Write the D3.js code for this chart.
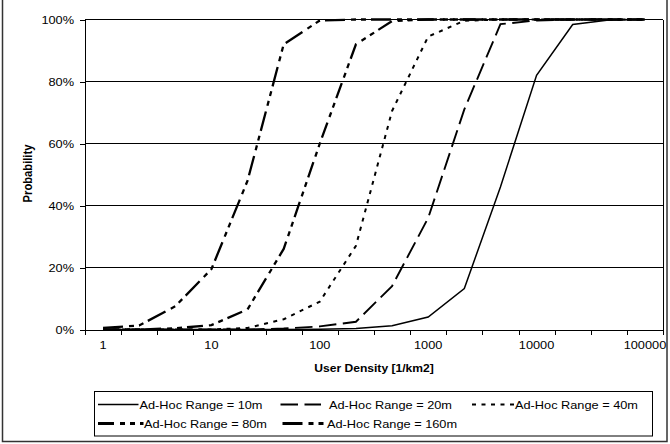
<!DOCTYPE html>
<html>
<head>
<meta charset="utf-8">
<script src="https://cdn.jsdelivr.net/npm/d3@7"></script>
<style>
  body { margin: 0; background: #fff; }
  svg text { font-family: "Liberation Sans", Arial, sans-serif; fill: #000; }
</style>
</head>
<body>
<svg id="chart" width="670" height="444"></svg>
<script>
// User density categories (1/km2), three steps per decade
const densities = [1, 2.15, 4.64, 10, 21.5, 46.4, 100, 215, 464, 1000, 2154, 4642, 10000, 21544, 46416, 100000];
const densityLabels = ["1", "10", "100", "1000", "10000", "100000"];
const probabilityTicks = [0, 20, 40, 60, 80, 100];

// Connection probability (%) per ad-hoc range
const range10m  = [0, 0, 0, 0, 0, 0, 0.1, 0.3, 1.2, 4, 13.2, 46, 82, 98.4, 99.8, 100];
const range20m  = [0, 0, 0, 0, 0, 0.3, 1, 2.5, 14, 36, 71, 98.5, 99.7, 100, 100, 100];
const range40m  = [0, 0, 0, 0, 0.5, 3.3, 9, 27, 70.5, 94.5, 99.6, 100, 100, 100, 100, 100];
const range80m  = [0, 0, 0.4, 1.4, 6.5, 26, 60, 92, 99.5, 100, 100, 100, 100, 100, 100, 100];
const range160m = [0.5, 1.3, 7.5, 19.5, 48, 92, 99.7, 100, 100, 100, 100, 100, 100, 100, 100, 100];

const seriesNames = ["Ad-Hoc Range = 10m", "Ad-Hoc Range = 20m", "Ad-Hoc Range = 40m",
                     "Ad-Hoc Range = 80m", "Ad-Hoc Range = 160m"];
const seriesValues = [range10m, range20m, range40m, range80m, range160m];

// Line styles per series (plot width, legend sample width, dash pattern)
const lineStyles = [
  { width: 1.5, keyWidth: 1.5, dash: null },
  { width: 1.9, keyWidth: 2.1, dash: "17.5,6.5" },
  { width: 2.0, keyWidth: 2.1, dash: "4,5.5" },
  { width: 2.3, keyWidth: 2.8, dash: "16,6,5,5,5,5" },
  { width: 2.3, keyWidth: 2.8, dash: "20,6,5,5,5,5" }
];

const svg = d3.select("#chart");
const STRETCH = 1.1;
const FONT = 11.6;

// plot frame
const plotLeft = 85, plotRight = 663, plotTop = 19.5, plotBottom = 329.5;

const x = d3.scaleBand().domain(d3.range(densities.length)).range([plotLeft, plotRight]);
const xEdge = d3.scaleLinear().domain([0, densities.length]).range([plotLeft, plotRight]);
const y = d3.scaleLinear().domain([0, 100]).range([plotBottom, plotTop]);
const cx = i => x(i) + x.bandwidth() / 2;

// outer chart border
svg.append("rect")
  .attr("x", 2.5).attr("y", -3).attr("width", 664.5).attr("height", 444.5)
  .attr("fill", "none").attr("stroke", "#333").attr("stroke-width", 1.5);

// horizontal gridlines
svg.append("g").selectAll("line")
  .data(probabilityTicks.filter(d => d > 0))
  .join("line")
  .attr("x1", plotLeft).attr("x2", plotRight)
  .attr("y1", d => y(d)).attr("y2", d => y(d))
  .attr("stroke", "#000").attr("stroke-width", 1)
  .attr("shape-rendering", "crispEdges");

// right edge of plot area
svg.append("line")
  .attr("x1", plotRight + 0.5).attr("x2", plotRight + 0.5)
  .attr("y1", plotTop).attr("y2", plotBottom)
  .attr("stroke", "#000").attr("shape-rendering", "crispEdges");

// y axis
const yAxis = svg.append("g")
  .attr("transform", `translate(${plotLeft},0)`)
  .call(d3.axisLeft(y).tickValues(probabilityTicks).tickFormat(d => d + "%").tickSize(5).tickPadding(0));
yAxis.select(".domain").attr("stroke", "#000").attr("shape-rendering", "crispEdges");
yAxis.selectAll(".tick line").attr("stroke", "#000").attr("shape-rendering", "crispEdges");
yAxis.selectAll(".tick text")
  .attr("font-size", FONT)
  .attr("font-family", null)
  .attr("x", -11 / STRETCH)
  .attr("dy", "0.35em")
  .attr("transform", `scale(${STRETCH},1)`);

// x axis: tick marks between categories
const xTicks = svg.append("g")
  .attr("transform", `translate(0,${plotBottom})`)
  .call(d3.axisBottom(xEdge).tickValues(d3.range(densities.length + 1)).tickFormat("").tickSize(5));
xTicks.select(".domain").attr("stroke", "#000").attr("shape-rendering", "crispEdges");
xTicks.selectAll(".tick line").attr("stroke", "#000").attr("shape-rendering", "crispEdges");

// x axis: decade labels centred on their categories
const decadeIdx = densities.map((d, i) => i).filter(i => densityLabels.includes(String(densities[i])));
const xLabels = svg.append("g")
  .attr("transform", `translate(0,${plotBottom})`)
  .call(d3.axisBottom(x).tickValues(decadeIdx).tickFormat(i => String(densities[i])).tickSize(0));
xLabels.select(".domain").remove();
xLabels.selectAll(".tick text")
  .attr("font-size", FONT)
  .attr("font-family", null)
  .attr("y", 19.5).attr("dy", 0)
  .attr("transform", `scale(${STRETCH},1)`);

// axis titles
svg.append("text")
  .attr("transform", `translate(374,371.5) scale(${STRETCH},1)`)
  .attr("text-anchor", "middle")
  .attr("font-size", 11).attr("font-weight", "bold")
  .text("User Density [1/km2]");

svg.append("text")
  .attr("transform", "translate(28,173.5) rotate(-90) scale(1,1.1)")
  .attr("text-anchor", "middle").attr("dy", "0.35em")
  .attr("font-size", 11.2).attr("font-weight", "bold")
  .text("Probability");

// series lines
const line = d3.line().x((d, i) => cx(i)).y(d => y(d));
svg.append("g").selectAll("path")
  .data(seriesValues)
  .join("path")
  .attr("d", line)
  .attr("fill", "none")
  .attr("stroke", "#000")
  .attr("stroke-width", (d, i) => lineStyles[i].width)
  .attr("stroke-dasharray", (d, i) => lineStyles[i].dash)
  .attr("stroke-linejoin", "miter");

// legend
svg.append("rect")
  .attr("x", 94.5).attr("y", 391.5).attr("width", 558).attr("height", 44.5)
  .attr("fill", "#fff").attr("stroke", "#000").attr("stroke-width", 1);

const legendSlots = [
  { x0: 98,    x1: 138.5, tx: 139.5, row: 0 },
  { x0: 280.5, x1: 321,   tx: 329,   row: 0 },
  { x0: 472,   x1: 514,   tx: 515,   row: 0 },
  { x0: 98,    x1: 143.5, tx: 144,   row: 1 },
  { x0: 282.5, x1: 326,   tx: 327,   row: 1 }
];
const rowLineY = [404.5, 423.5];
const rowTextY = [409, 427.8];

const legend = svg.append("g").selectAll("g")
  .data(seriesNames)
  .join("g");
legend.append("line")
  .attr("x1", (d, i) => legendSlots[i].x0)
  .attr("x2", (d, i) => legendSlots[i].x1)
  .attr("y1", (d, i) => rowLineY[legendSlots[i].row])
  .attr("y2", (d, i) => rowLineY[legendSlots[i].row])
  .attr("stroke", "#000")
  .attr("stroke-width", (d, i) => lineStyles[i].keyWidth)
  .attr("stroke-dasharray", (d, i) => lineStyles[i].dash);
legend.append("text")
  .attr("transform", (d, i) => `translate(${legendSlots[i].tx},${rowTextY[legendSlots[i].row]}) scale(${STRETCH},1)`)
  .attr("font-size", FONT)
  .text(d => d);
</script>
</body>
</html>
